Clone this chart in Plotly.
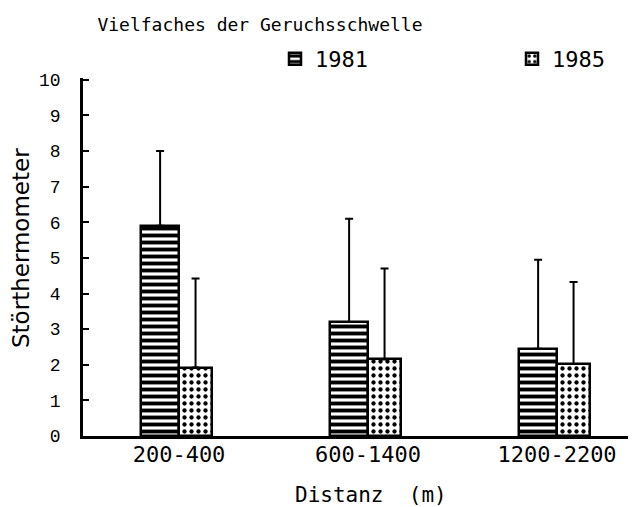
import plotly.graph_objects as go

categories = ["200-400", "600-1400", "1200-2200"]
positions = [0, 1, 2]
series_names = ["1981", "1985"]
values_1981 = [5.9, 3.2, 2.45]
err_1981 = [2.1, 2.9, 2.5]
values_1985 = [1.92, 2.15, 2.02]
err_1985 = [2.5, 2.55, 2.3]
y_ticks = list(range(0, 11))

MONO = "DejaVu Sans Mono"
W, H = 628, 499
L, R, T, B = 75, 3, 70, 71
PW, PH = W - L - R, H - T - B
OFF = 8  # browser body margin


def px_x(page_x):
    return (page_x - OFF - L) / PW


def px_y(page_y):
    return 1 - (page_y - OFF - T) / PH


fig = go.Figure()
fig.add_trace(go.Bar(
    x=positions, y=values_1981, name=series_names[0], legend="legend",
    width=0.2, offset=-0.2,
    marker=dict(color="white", line=dict(color="black", width=2.5),
                pattern=dict(shape="-", fgcolor="black", bgcolor="white", fgopacity=1,
                             fillmode="replace", size=7, solidity=0.55)),
    error_y=dict(type="data", array=err_1981, symmetric=False, arrayminus=[0, 0, 0],
                 color="black", thickness=2, width=4),
))
fig.add_trace(go.Bar(
    x=positions, y=values_1985, name=series_names[1], legend="legend2",
    width=0.175, offset=0.0,
    marker=dict(color="white", line=dict(color="black", width=2.5),
                pattern=dict(shape=".", fgcolor="black", bgcolor="white", fgopacity=1,
                             fillmode="replace", size=7, solidity=0.3)),
    error_y=dict(type="data", array=err_1985, symmetric=False, arrayminus=[0, 0, 0],
                 color="black", thickness=2, width=4),
))

legend_font = dict(family=MONO, size=22, color="black")
leg_y = px_y(59)
fig.update_layout(
    width=W, height=H,
    margin=dict(l=L, r=R, t=T, b=B, autoexpand=False),
    paper_bgcolor="white", plot_bgcolor="white",
    showlegend=True,
    legend=dict(x=px_x(275), y=leg_y, xanchor="left", yanchor="middle",
                font=legend_font, bgcolor="rgba(0,0,0,0)"),
    legend2=dict(x=px_x(512), y=leg_y, xanchor="left", yanchor="middle",
                 font=legend_font, bgcolor="rgba(0,0,0,0)"),
    title=dict(text="Vielfaches der Geruchsschwelle", x=(260 - OFF) / W, xanchor="center",
               y=0.966, yanchor="middle",
               font=dict(family=MONO, size=18, color="black")),
    bargap=0,
    annotations=[
        dict(text="Distanz  (m)", xref="paper", yref="paper",
             x=px_x(371), y=px_y(495), xanchor="center", yanchor="middle", showarrow=False,
             font=dict(family=MONO, size=21, color="black")),
        dict(text="Störthermometer", xref="paper", yref="paper", textangle=-90,
             x=px_x(21), y=px_y(248), xanchor="center", yanchor="middle", showarrow=False,
             font=dict(family="DejaVu Sans", size=23, color="black")),
    ],
)
fig.update_xaxes(
    range=[-0.508, 2.402], tickvals=positions, ticktext=categories,
    showline=True, linecolor="black", linewidth=2.5, showgrid=False, zeroline=False,
    ticks="", ticklabelstandoff=-3, automargin=False,
    tickfont=dict(family=MONO, size=22, color="black"),
)
fig.update_yaxes(
    range=[0, 10.05], tickvals=y_ticks,
    showline=True, linecolor="black", linewidth=2.5, showgrid=False, zeroline=False,
    ticks="inside", ticklen=6, tickwidth=2, tickcolor="black",
    ticklabelstandoff=16, automargin=False,
    tickfont=dict(family="Liberation Mono", size=18, color="black"),
)
fig.write_html("out.html")
